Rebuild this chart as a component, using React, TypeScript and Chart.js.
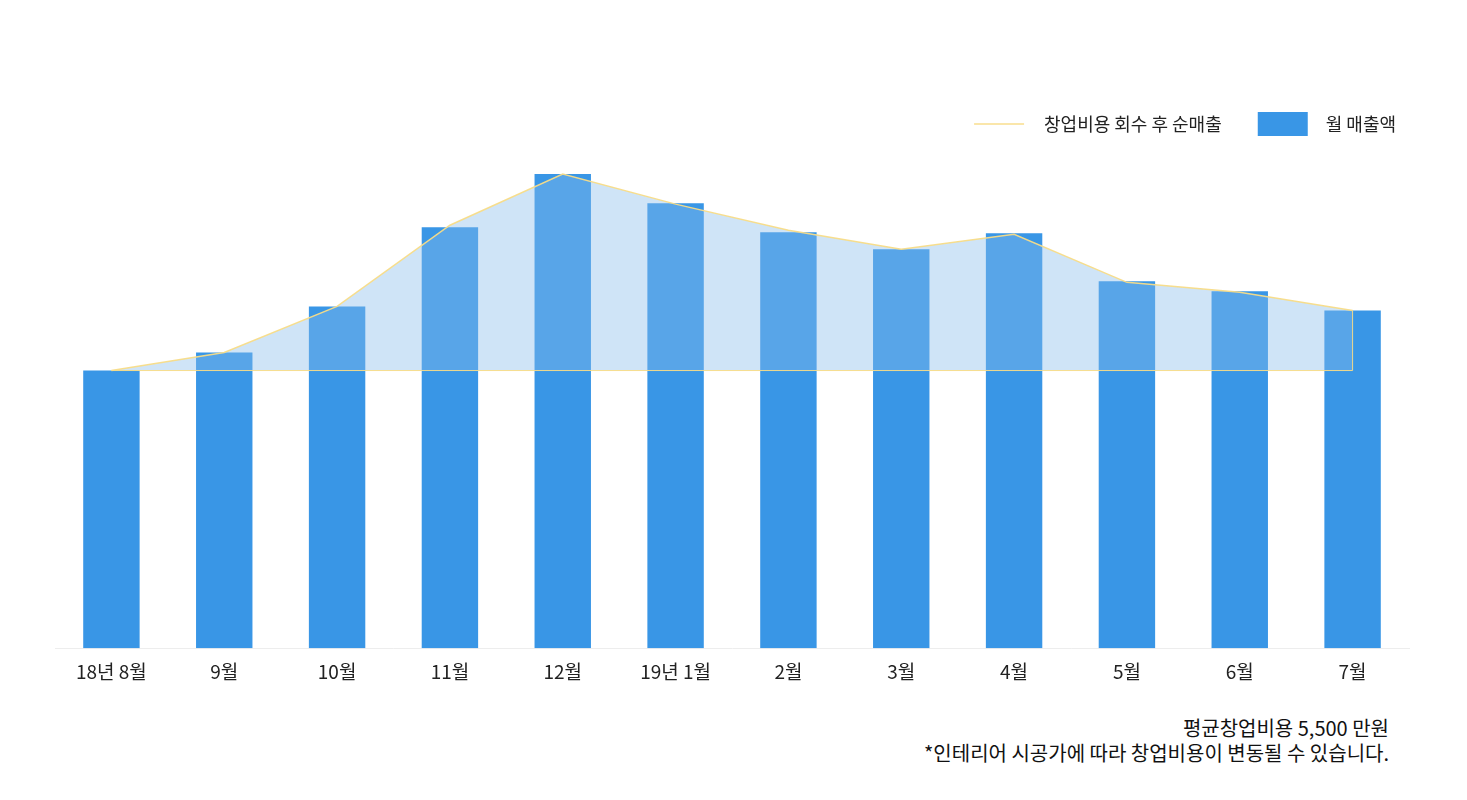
import { useEffect, useRef } from "react"
import { Chart, registerables } from "chart.js"

Chart.register(...registerables)

const FONT = '"Noto Sans CJK KR", "Noto Sans", sans-serif'

const months = ["18년 8월", "9월", "10월", "11월", "12월", "19년 1월", "2월", "3월", "4월", "5월", "6월", "7월"]
// 월 매출액 (만원)
const monthlySales = [2770, 2950, 3410, 4200, 4730, 4440, 4150, 3980, 4140, 3660, 3560, 3370]
// 창업비용 회수 후 순매출 (만원)
const netSales = [2770, 2950, 3410, 4220, 4730, 4430, 4170, 3980, 4130, 3650, 3550, 3370]
const baseValue = 2770
const seriesLabels = ["창업비용 회수 후 순매출", "월 매출액"]
const footnotes = ["평균창업비용 5,500 만원", "*인테리어 시공가에 따라 창업비용이 변동될 수 있습니다."]

const BAR_BLUE = "#3996e6"
const LINE_YELLOW = "rgba(248, 220, 135, 0.95)"
const AREA_FILL = "rgba(135, 187, 235, 0.4)"

function makeLineMarker() {
  const c = document.createElement("canvas")
  c.width = 100
  c.height = 4
  const g = c.getContext("2d")!
  g.strokeStyle = LINE_YELLOW
  g.lineWidth = 1.5
  g.beginPath()
  g.moveTo(30, 2)
  g.lineTo(80, 2)
  g.stroke()
  return c
}

function makeBarMarker() {
  const c = document.createElement("canvas")
  c.width = 100
  c.height = 24
  const g = c.getContext("2d")!
  g.fillStyle = BAR_BLUE
  g.fillRect(32, 0, 50, 24)
  return c
}

export default function App() {
  const chartRef = useRef<HTMLCanvasElement>(null)
  const chartInstance = useRef<Chart | null>(null)

  useEffect(() => {
    if (!chartRef.current) return
    const ctx = chartRef.current.getContext("2d")
    if (!ctx) return
    if (chartInstance.current) chartInstance.current.destroy()

    const lineMarker = makeLineMarker()
    const barMarker = makeBarMarker()
    const last = months.length - 1

    chartInstance.current = new Chart(ctx, {
      type: "bar",
      data: {
        labels: months,
        datasets: [
          {
            // outline of the area: baseline + closing edge
            type: "line",
            label: "_edge",
            data: [
              { x: months[0], y: baseValue },
              { x: months[last], y: baseValue },
              { x: months[last], y: netSales[last] },
            ] as any,
            borderColor: LINE_YELLOW,
            borderWidth: 1,
            pointRadius: 0,
            fill: false,
            order: 0,
          },
          {
            type: "line",
            label: seriesLabels[0],
            data: netSales,
            borderColor: LINE_YELLOW,
            borderWidth: 1.5,
            backgroundColor: AREA_FILL,
            pointRadius: 0,
            tension: 0,
            fill: { value: baseValue },
            order: 1,
          },
          {
            type: "bar",
            label: seriesLabels[1],
            data: monthlySales,
            backgroundColor: BAR_BLUE,
            barPercentage: 0.5,
            categoryPercentage: 1,
            order: 2,
          },
        ],
      },
      options: {
        animation: false,
        responsive: true,
        maintainAspectRatio: false,
        layout: { padding: { left: 47, right: 50, top: 94, bottom: 9 } },
        scales: {
          x: {
            grid: { display: false, drawTicks: false },
            border: { display: true, color: "#ededed" },
            ticks: {
              color: "#222",
              padding: 12,
              maxRotation: 0,
              autoSkip: false,
              font: { family: FONT, size: 19 },
            },
          },
          y: {
            display: false,
            min: 0,
            max: 5040,
          },
        },
        plugins: {
          tooltip: { enabled: false },
          legend: {
            display: true,
            position: "top",
            align: "end",
            labels: {
              usePointStyle: true,
              pointStyleWidth: 82,
              padding: 13,
              font: { family: FONT, size: 18 },
              generateLabels: () => [
                {
                  text: seriesLabels[0],
                  fillStyle: "transparent",
                  strokeStyle: "transparent",
                  lineWidth: 0,
                  pointStyle: lineMarker,
                  hidden: false,
                  datasetIndex: 1,
                  fontColor: "#222",
                },
                {
                  text: seriesLabels[1],
                  fillStyle: BAR_BLUE,
                  strokeStyle: "transparent",
                  lineWidth: 0,
                  pointStyle: barMarker,
                  hidden: false,
                  datasetIndex: 2,
                  fontColor: "#222",
                },
              ],
            },
          },
        },
      },
    })

    return () => {
      if (chartInstance.current) {
        chartInstance.current.destroy()
        chartInstance.current = null
      }
    }
  }, [])

  return (
    <div style={{ fontFamily: FONT }}>
      <div style={{ height: "696px", position: "relative" }}>
        <canvas ref={chartRef}></canvas>
      </div>
      <div
        style={{
          marginTop: "11px",
          paddingRight: "70px",
          textAlign: "right",
          fontSize: "20px",
          lineHeight: "25px",
          color: "#111",
        }}
      >
        {footnotes.map((t) => (
          <div key={t}>{t}</div>
        ))}
      </div>
    </div>
  )
}
